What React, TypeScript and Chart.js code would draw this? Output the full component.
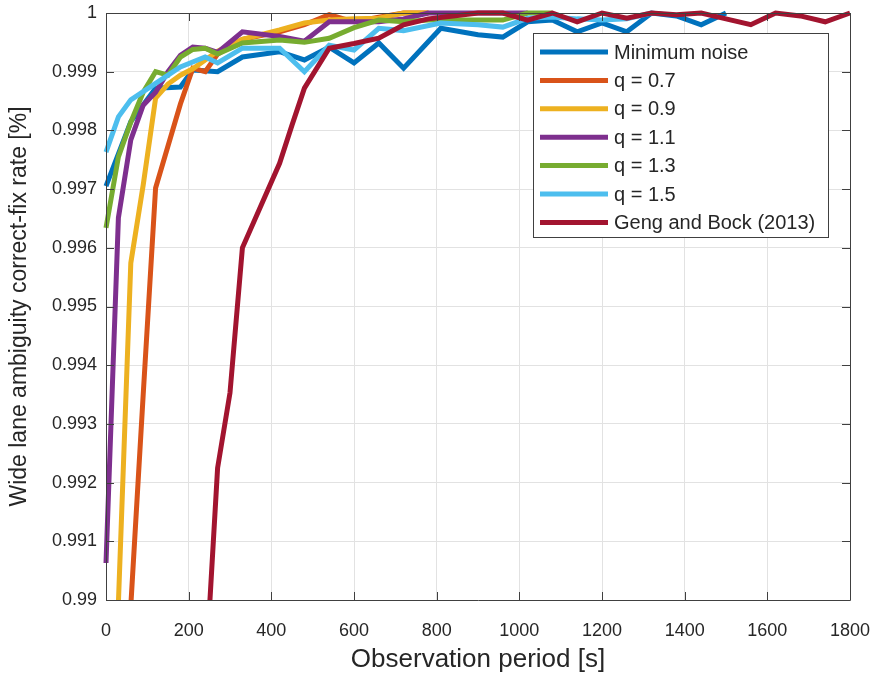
import React, { useEffect, useRef } from 'react';
import { Chart, registerables } from 'chart.js';

Chart.register(...registerables);

// ---------- data ----------
const seriesLabels = ['Minimum noise', 'q = 0.7', 'q = 0.9', 'q = 1.1', 'q = 1.3', 'q = 1.5', 'Geng and Bock (2013)'];
const seriesColors = ['#0072BD', '#D95319', '#EDB120', '#7E2F8E', '#77AC30', '#4DBEEE', '#A2142F'];

const minNoiseT = [0, 60, 120, 180, 210, 270, 330, 420, 480, 540, 600, 660, 720, 810, 900, 960, 1020, 1080, 1140, 1200, 1260, 1320, 1380, 1440, 1500];
const minNoiseV = [0.99705, 0.99815, 0.99872, 0.99874, 0.99903, 0.999, 0.99925, 0.99934, 0.9992, 0.99942, 0.99915, 0.99949, 0.99906, 0.99974, 0.99963, 0.99959, 0.99985, 0.99988, 0.99968, 0.99983, 0.99968, 1.0, 0.99995, 0.9998, 1.0];

const q07T = [60, 90, 120, 180, 210, 240, 270, 330, 420, 480, 540, 600, 660, 720, 780];
const q07V = [0.9899, 0.9935, 0.99702, 0.99845, 0.99906, 0.999, 0.9993, 0.99955, 0.99968, 0.9998, 0.99997, 0.99985, 0.99993, 1.0, 1.0];

const q09T = [30, 60, 90, 120, 150, 180, 210, 240, 270, 330, 420, 480, 540, 600, 660, 720, 780];
const q09V = [0.98995, 0.99574, 0.99707, 0.99855, 0.99879, 0.99894, 0.99905, 0.9992, 0.99935, 0.99955, 0.99971, 0.99983, 0.99988, 0.9999, 0.99991, 1.0, 1.0];

const q11T = [0, 30, 60, 90, 120, 150, 180, 210, 240, 270, 330, 420, 480, 540, 600, 660, 720, 780, 1020];
const q11V = [0.99063, 0.99651, 0.99784, 0.99843, 0.99865, 0.999, 0.99928, 0.99942, 0.9994, 0.99933, 0.99968, 0.9996, 0.99952, 0.99985, 0.99985, 0.99985, 0.9999, 1.0, 1.0];

const q13T = [0, 30, 60, 90, 120, 150, 180, 210, 240, 270, 330, 420, 480, 540, 600, 660, 720, 780, 840, 960, 1020, 1080];
const q13V = [0.99634, 0.99755, 0.99814, 0.99865, 0.999, 0.99894, 0.99925, 0.99938, 0.9994, 0.9993, 0.99949, 0.99954, 0.9995, 0.99957, 0.99975, 0.99988, 0.99985, 0.99988, 0.99988, 0.99988, 1.0, 1.0];

const q15T = [0, 30, 60, 120, 180, 240, 270, 330, 420, 480, 540, 600, 660, 720, 810, 900, 960, 1020, 1080, 1140, 1200, 1260, 1320];
const q15V = [0.99763, 0.99823, 0.99852, 0.9988, 0.99908, 0.99925, 0.99915, 0.9994, 0.9994, 0.999, 0.99945, 0.99937, 0.99974, 0.9997, 0.99983, 0.9998, 0.99976, 0.99991, 0.99993, 0.9999, 0.99988, 0.9999, 1.0];

const gengBockT = [240, 270, 300, 330, 420, 450, 480, 540, 600, 660, 720, 780, 840, 900, 960, 1020, 1080, 1140, 1200, 1260, 1320, 1380, 1440, 1500, 1560, 1620, 1680, 1740, 1800];
const gengBockV = [0.9886, 0.99225, 0.99353, 0.996, 0.99744, 0.99809, 0.99872, 0.9994, 0.99948, 0.99957, 0.9998, 0.9999, 0.99995, 1.0, 1.0, 0.99988, 1.0, 0.99985, 1.0, 0.99991, 1.0, 0.99997, 1.0, 0.9999, 0.9998, 1.0, 0.99995, 0.99985, 1.0];

const seriesTimes = [minNoiseT, q07T, q09T, q11T, q13T, q15T, gengBockT];
const seriesValues = [minNoiseV, q07V, q09V, q11V, q13V, q15V, gengBockV];

const xTickValues = [0, 200, 400, 600, 800, 1000, 1200, 1400, 1600, 1800];
const yTickValues = [0.99, 0.991, 0.992, 0.993, 0.994, 0.995, 0.996, 0.997, 0.998, 0.999, 1];
const yTickLabels = ['0.99', '0.991', '0.992', '0.993', '0.994', '0.995', '0.996', '0.997', '0.998', '0.999', '1'];

const xTitle = 'Observation period [s]';
const yTitle = 'Wide lane ambiguity correct-fix rate [%]';

const FONT = "'Liberation Sans', Arial, Helvetica, sans-serif";
const TEXT = '#262626';

const boxPlugin = {
  id: 'matlabBox',
  afterDatasetsDraw(chart: any) {
    const { ctx, chartArea } = chart;
    const { left, right, top, bottom } = chartArea;
    const xs = chart.scales.x;
    const ys = chart.scales.y;
    const tl = 8;
    ctx.save();
    ctx.strokeStyle = '#404040';
    ctx.lineWidth = 1;
    ctx.beginPath();
    ctx.rect(Math.round(left) + 0.5, Math.round(top) + 0.5, Math.round(right - left), Math.round(bottom - top));
    ctx.stroke();
    ctx.beginPath();
    xTickValues.forEach((v) => {
      const px = Math.round(xs.getPixelForValue(v)) + 0.5;
      ctx.moveTo(px, bottom);
      ctx.lineTo(px, bottom - tl);
      ctx.moveTo(px, top);
      ctx.lineTo(px, top + tl);
    });
    yTickValues.forEach((v) => {
      const py = Math.round(ys.getPixelForValue(v)) + 0.5;
      ctx.moveTo(left, py);
      ctx.lineTo(left + tl, py);
      ctx.moveTo(right, py);
      ctx.lineTo(right - tl, py);
    });
    ctx.stroke();

    // legend
    const lx = 533.5, ly = 33.5, lw = 295, lh = 204;
    ctx.fillStyle = '#ffffff';
    ctx.fillRect(lx, ly, lw, lh);
    ctx.strokeStyle = '#404040';
    ctx.strokeRect(lx, ly, lw, lh);
    ctx.font = `20px ${FONT}`;
    ctx.textBaseline = 'middle';
    ctx.textAlign = 'left';
    seriesLabels.forEach((lab, i) => {
      const y = 52 + i * 28.4;
      ctx.strokeStyle = seriesColors[i];
      ctx.lineWidth = 5;
      ctx.beginPath();
      ctx.moveTo(540, y);
      ctx.lineTo(608, y);
      ctx.stroke();
      ctx.fillStyle = TEXT;
      ctx.fillText(lab, 614, y + 1);
    });
    ctx.restore();
  },
};

export default function App() {
  const ref = useRef<HTMLCanvasElement | null>(null);
  useEffect(() => {
    document.body.style.margin = '0';
    const canvas = ref.current;
    if (!canvas) return;
    const datasets = seriesLabels.map((label, i) => ({
      label,
      data: seriesTimes[i].map((t, j) => ({ x: t, y: seriesValues[i][j] })),
      borderColor: seriesColors[i],
      backgroundColor: seriesColors[i],
      borderWidth: 5,
      pointRadius: 0,
      tension: 0,
      fill: false,
      order: 6 - i,
      clip: { left: 3, top: 4, right: 4, bottom: 0 },
    }));
    const chart = new Chart(canvas, {
      type: 'line',
      data: { datasets },
      options: {
        responsive: false,
        animation: false,
        devicePixelRatio: 1,
        layout: { padding: { left: 0, right: 29, top: 13, bottom: 0 } },
        plugins: { legend: { display: false }, tooltip: { enabled: false } },
        scales: {
          x: {
            type: 'linear',
            min: 0,
            max: 1800,
            afterBuildTicks: (scale: any) => {
              scale.ticks = xTickValues.map((v) => ({ value: v }));
            },
            afterFit: (scale: any) => {
              scale.height = 75;
              scale.paddingLeft = 0;
              scale.paddingRight = 0;
            },
            grid: { color: '#e2e2e2', drawTicks: false, lineWidth: 1 },
            border: { display: false },
            ticks: {
              font: { family: FONT, size: 18 },
              color: TEXT,
              padding: 20,
              maxRotation: 0,
              callback: (v: any) => String(v),
            },
            title: {
              display: true,
              text: xTitle,
              font: { family: FONT, size: 26 },
              color: TEXT,
              padding: { top: 0, bottom: 0 },
            },
          },
          y: {
            type: 'linear',
            min: 0.99,
            max: 1,
            afterBuildTicks: (scale: any) => {
              scale.ticks = yTickValues.map((v) => ({ value: v }));
            },
            afterFit: (scale: any) => {
              scale.width = 106;
              scale.paddingTop = 0;
              scale.paddingBottom = 0;
            },
            grid: { color: '#e2e2e2', drawTicks: false, lineWidth: 1 },
            border: { display: false },
            ticks: {
              font: { family: FONT, size: 18 },
              color: TEXT,
              padding: 9,
              callback: (_v: any, idx: number) => yTickLabels[idx],
            },
            title: {
              display: true,
              text: yTitle,
              font: { family: FONT, size: 23 },
              color: TEXT,
              padding: { top: 6, bottom: 0 },
            },
          },
        },
      },
      plugins: [boxPlugin],
    } as any);
    return () => chart.destroy();
  }, []);
  return (
    <div style={{ position: 'absolute', left: 0, top: 0, width: 879, height: 675, background: '#fff' }}>
      <canvas ref={ref} width={879} height={675} style={{ width: 879, height: 675, display: 'block' }} />
    </div>
  );
}
